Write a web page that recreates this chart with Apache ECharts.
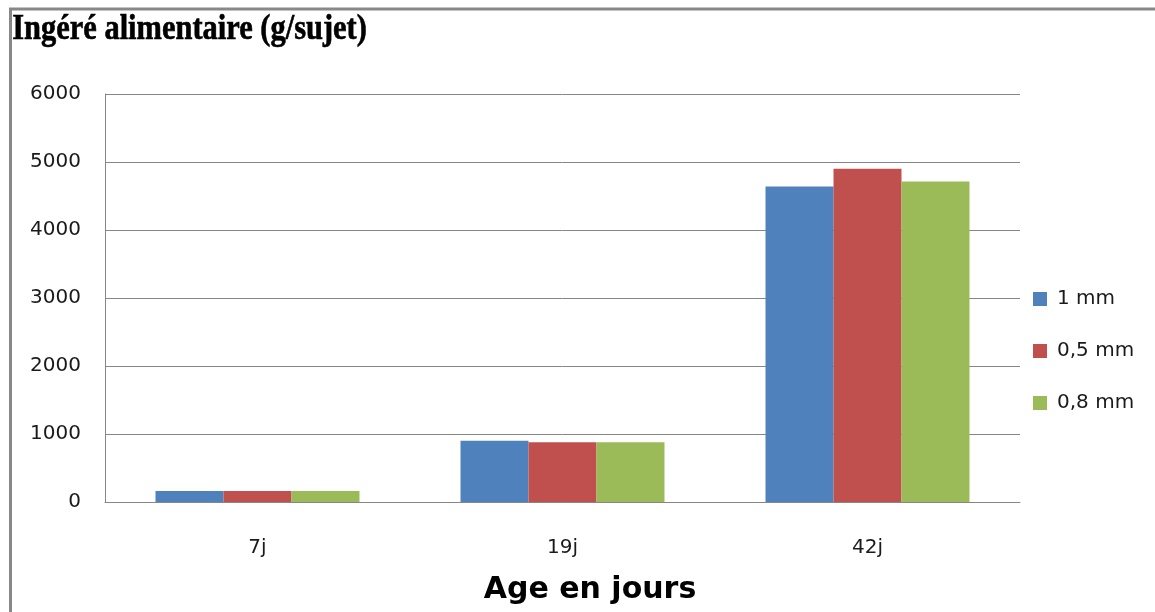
<!DOCTYPE html>
<html>
<head>
<meta charset="utf-8">
<title>Ingéré alimentaire</title>
<script src="https://cdn.jsdelivr.net/npm/echarts@6/dist/echarts.min.js"></script>
<style>
  html, body {
    margin: 0;
    padding: 0;
    background: #fff;
  }
  #myChart {
    width: 1155px;
    height: 612px;
  }
</style>
</head>
<body>
<div id="myChart"></div>
<script>
  // données
  var categories = ['7j', '19j', '42j'];
  var seriesNames = ['1 mm', '0,5 mm', '0,8 mm'];
  var serie1mm = [160, 900, 4640];
  var serie05mm = [160, 880, 4900];
  var serie08mm = [160, 880, 4715];
  var colors = ['#4F81BD', '#C0504D', '#9BBB59'];

  var allValues = [serie1mm, serie05mm, serie08mm];

  var myChart = echarts.init(document.getElementById('myChart'));

  var series = [];
  for (var i = 0; i < seriesNames.length; i++) {
    series.push({
      name: seriesNames[i],
      type: 'bar',
      data: allValues[i],
      barWidth: 68,
      barGap: '0%',
      itemStyle: {color: colors[i]}
    });
  }

  myChart.setOption({
    animation: false,
    color: colors,
    grid: {
      left: 105,
      right: 135,
      top: 94,
      bottom: 110,
      outerBoundsMode: 'none'
    },
    legend: {
      orient: 'vertical',
      left: 1033,
      top: 289,
      padding: 0,
      itemWidth: 14,
      itemHeight: 14,
      itemGap: 32,
      icon: 'rect',
      data: seriesNames,
      textStyle: {
        fontFamily: 'DejaVu Sans',
        fontSize: 20,
        lineHeight: 14,
        color: '#1a1a1a',
        padding: [0, 0, 0, 5]
      }
    },
    xAxis: {
      type: 'category',
      data: categories,
      name: 'Age en jours',
      nameLocation: 'middle',
      nameGap: 73,
      nameTextStyle: {
        fontFamily: 'DejaVu Sans',
        fontWeight: 'bold',
        fontSize: 30,
        color: '#000',
        padding: [0, 0, 0, 55]
      },
      axisLine: {lineStyle: {color: '#868686', width: 1}},
      axisTick: {show: false},
      axisLabel: {
        margin: 36,
        fontFamily: 'DejaVu Sans',
        fontSize: 20,
        color: '#1a1a1a'
      }
    },
    yAxis: {
      type: 'value',
      min: 0,
      max: 6000,
      interval: 1000,
      axisLine: {show: true, lineStyle: {color: '#868686', width: 1}},
      axisTick: {show: false},
      axisLabel: {
        margin: 24,
        fontFamily: 'DejaVu Sans',
        fontSize: 20,
        color: '#1a1a1a',
        formatter: function (v) { return String(v); }
      },
      splitLine: {lineStyle: {color: '#868686', width: 1}}
    },
    graphic: [
      // cadre gris (haut et gauche)
      {
        type: 'line',
        shape: {x1: 9, y1: 9, x2: 1155, y2: 9},
        style: {stroke: '#888', lineWidth: 3}
      },
      {
        type: 'line',
        shape: {x1: 10.5, y1: 8, x2: 10.5, y2: 612},
        style: {stroke: '#888', lineWidth: 3}
      },
      // titre
      {
        type: 'text',
        left: 12,
        top: 12,
        scaleX: 0.87,
        style: {
          text: 'Ingéré alimentaire (g/sujet)',
          fontFamily: 'Liberation Serif',
          fontWeight: 'bold',
          fontSize: 35,
          fill: '#000',
          stroke: '#000',
          lineWidth: 0.6
        }
      }
    ],
    series: series
  });
</script>
</body>
</html>
